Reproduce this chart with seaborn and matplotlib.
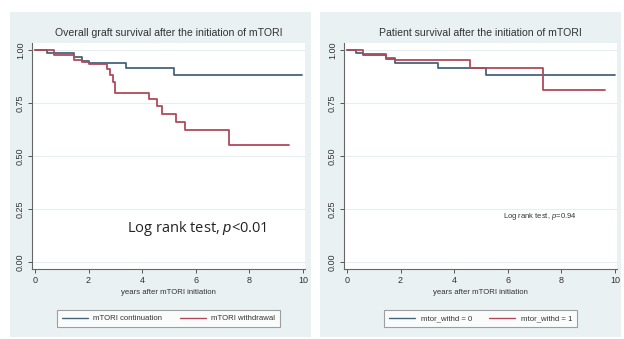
import numpy as np
import pandas as pd
import matplotlib
matplotlib.use("Agg")
import matplotlib.pyplot as plt
from matplotlib.patches import Rectangle
from matplotlib.lines import Line2D
import seaborn as sns

# graft survival (left panel), Kaplan-Meier step values
graft_cont_t = [0, 0.45, 1.45, 1.75, 2.0, 3.4, 5.2, 9.95]
graft_cont_s = [1.0, 0.985, 0.965, 0.95, 0.94, 0.914, 0.882, 0.882]
graft_wd_t = [0, 0.7, 1.45, 1.75, 2.0, 2.7, 2.8, 2.9, 3.0, 4.27, 4.55, 4.75, 5.28, 5.6, 7.25, 9.5]
graft_wd_s = [1.0, 0.976, 0.955, 0.945, 0.935, 0.91, 0.88, 0.85, 0.796, 0.77, 0.735, 0.70, 0.66, 0.623, 0.552, 0.552]

# patient survival (right panel)
pat_0_t = [0, 0.35, 0.6, 1.45, 1.8, 3.4, 5.2, 10.0]
pat_0_s = [1.0, 0.985, 0.978, 0.957, 0.94, 0.917, 0.882, 0.882]
pat_1_t = [0, 0.6, 1.45, 1.8, 4.6, 7.3, 9.65]
pat_1_s = [1.0, 0.981, 0.961, 0.952, 0.914, 0.811, 0.811]

titles = ["Overall graft survival after the initiation of mTORI",
          "Patient survival after the initiation of mTORI"]
legend_labels = [["mTORI continuation", "mTORI withdrawal"],
                 ["mtor_withd = 0", "mtor_withd = 1"]]
pvalue_text = ["Log rank test, $p$<0.01", "Log rank test, $p$=0.94"]
yticks = [0, 0.25, 0.5, 0.75, 1.0]
ytick_labels = ["0.00", "0.25", "0.50", "0.75", "1.00"]
xticks = [0, 2, 4, 6, 8, 10]

sns.set_style("white")
plt.rcParams["font.family"] = ["Liberation Sans", "DejaVu Sans"]
plt.rcParams["mathtext.fontset"] = "custom"
plt.rcParams["mathtext.it"] = "Liberation Sans:italic"

blue = "#44647c"
red = "#b04a5a"
panel_bg = "#e9f1f3"

W, H = 624, 339
fig = plt.figure(figsize=(W / 100, H / 100), dpi=100, facecolor="white")

# stata style light panels behind each graph
for x0, x1 in [(10, 311), (320, 621)]:
    fig.add_artist(Rectangle((x0 / W, 1 - 337 / H), (x1 - x0) / W, 325 / H,
                             transform=fig.transFigure, facecolor=panel_bg,
                             edgecolor="none", zorder=-10))

panels = [
    (graft_cont_t, graft_cont_s, graft_wd_t, graft_wd_s),
    (pat_0_t, pat_0_s, pat_1_t, pat_1_s),
]
ax_left_px = [32, 344]

for i, (t0, s0, t1, s1) in enumerate(panels):
    ax = fig.add_axes([ax_left_px[i] / W, 1 - 269 / H, 273 / W, 226 / H])
    ax.set_facecolor("white")
    df = pd.DataFrame({
        "t": list(t0) + list(t1),
        "s": list(s0) + list(s1),
        "grp": [legend_labels[i][0]] * len(t0) + [legend_labels[i][1]] * len(t1),
    })
    sns.lineplot(data=df, x="t", y="s", hue="grp", palette=[blue, red],
                 estimator=None, sort=False, drawstyle="steps-post",
                 linewidth=1.3, legend=False, ax=ax)

    ax.set_xlim(-0.11, 10.08)
    ax.set_ylim(-0.033, 1.033)
    ax.set_yticks(yticks)
    ax.set_yticklabels(ytick_labels, rotation=90, va="center", fontsize=6.5, color="#333333")
    ax.set_xticks(xticks)
    ax.set_xticklabels([str(x) for x in xticks], fontsize=6.5, color="#333333")
    for y in yticks:
        ax.axhline(y, color="#e6eeef", linewidth=0.8, zorder=0)
    ax.tick_params(axis="both", direction="out", length=3, width=0.7,
                   color="#555555", pad=2, left=True, bottom=True)
    for side in ["top", "right"]:
        ax.spines[side].set_visible(False)
    for side in ["left", "bottom"]:
        ax.spines[side].set_color("#666666")
        ax.spines[side].set_linewidth(0.8)
    ax.set_xlabel("years after mTORI initiation", fontsize=5.6, color="#333333", labelpad=3)
    ax.set_ylabel("")
    ax.set_title(titles[i], fontsize=7.6, color="#333333", pad=5)

    if i == 0:
        ax.text(6.04, 0.16, pvalue_text[i], ha="center", va="center",
                fontsize=10.5, color="#222222", family=["Open Sans", "DejaVu Sans"])
    else:
        ax.text(7.2, 0.214, pvalue_text[i], ha="center", va="center",
                fontsize=5.5, color="#333333")

    handles = [Line2D([], [], color=blue, linewidth=1),
               Line2D([], [], color=red, linewidth=1)]
    leg = ax.legend(handles, legend_labels[i], loc="upper center",
                    bbox_to_anchor=(0.5, -0.165), ncol=2, fontsize=5.6,
                    frameon=True, fancybox=False, handlelength=3.4,
                    columnspacing=2.2, borderpad=0.6, handletextpad=0.7)
    leg.get_frame().set_edgecolor("#888888")
    leg.get_frame().set_linewidth(0.8)
    for txt in leg.get_texts():
        txt.set_color("#333333")

fig.savefig("out.png", dpi=100, facecolor="white")
